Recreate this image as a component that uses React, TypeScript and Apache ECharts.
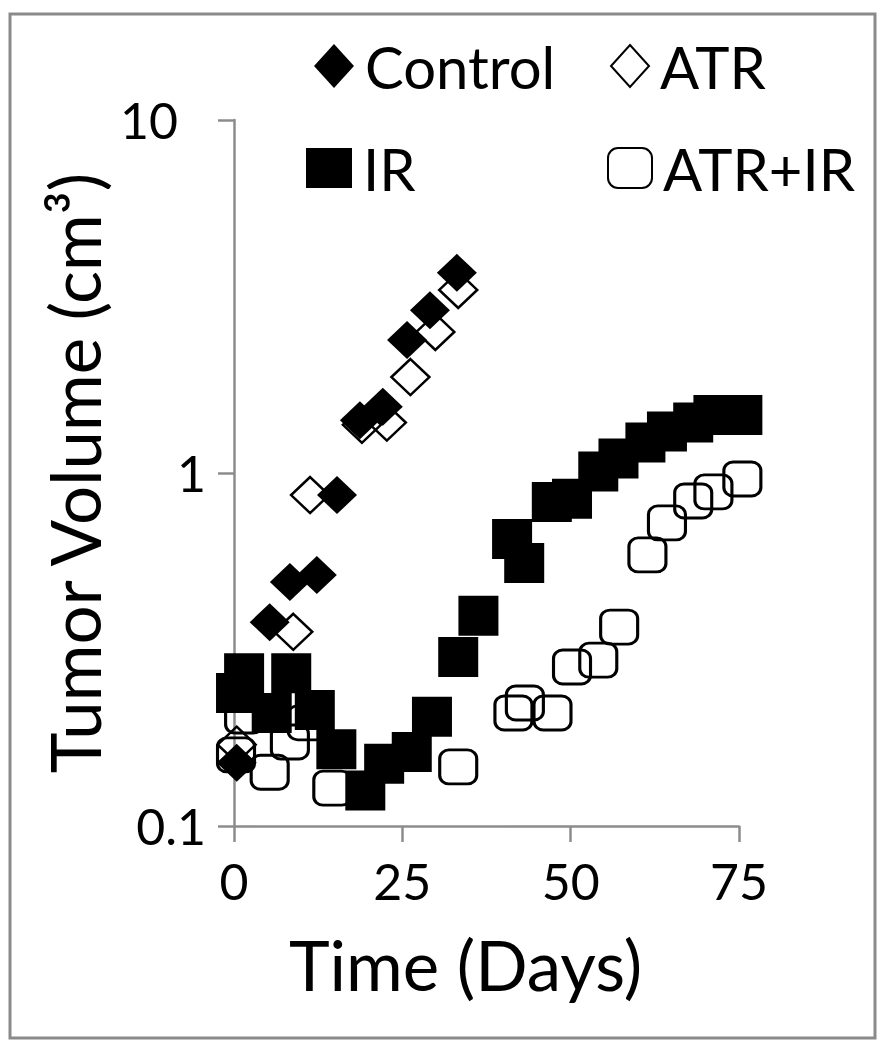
import React, { useEffect, useRef } from "react";
import * as echarts from "echarts";

// Days and tumor volumes (cm³)
const controlDays = [0.4, 5.3, 8.3, 12.3, 15.3, 18.7, 22.1, 25.7, 29.1, 33.1];
const controlVol = [0.151, 0.378, 0.491, 0.514, 0.866, 1.41, 1.54, 2.38, 2.89, 3.69];

const atrDays = [0.4, 8.8, 11.3, 19.0, 22.7, 26.2, 29.9, 33.3];
const atrVol = [0.17, 0.355, 0.866, 1.37, 1.39, 1.87, 2.51, 3.3];

const irDays = [0.3, 1.5, 5.6, 8.5, 12.0, 15.2, 19.5, 22.3, 26.4, 29.4, 33.3, 36.3, 41.3, 43.1, 47.2, 50.2, 54.1, 57.1, 61.1, 64.3, 68.2, 71.2, 75.5];
const irVol = [0.238, 0.271, 0.209, 0.271, 0.213, 0.165, 0.126, 0.15, 0.162, 0.204, 0.301, 0.394, 0.65, 0.556, 0.828, 0.845, 1.01, 1.1, 1.22, 1.31, 1.39, 1.46, 1.46];

const atrIrDays = [0.3, 1.5, 5.3, 8.3, 10.8, 14.6, 33.3, 41.5, 43.2, 47.3, 50.2, 54.1, 57.2, 61.4, 64.3, 68.2, 71.2, 75.5];
const atrIrVol = [0.159, 0.205, 0.142, 0.173, 0.196, 0.128, 0.147, 0.209, 0.223, 0.209, 0.282, 0.295, 0.366, 0.586, 0.722, 0.833, 0.884, 0.962];

const xTicks = [0, 25, 50, 75];
const yTickLabels = ["0.1", "1", "10"];
const seriesNames = ["Control", "ATR", "IR", "ATR+IR"];

const FONT = "Lato";
const AXIS_GRAY = "#8c8c8c";

const zip = (xs: number[], ys: number[]) => xs.map((x, i) => [x, ys[i]]);

export default function App() {
  const ref = useRef<HTMLDivElement>(null);

  useEffect(() => {
    if (!ref.current) return;
    const chart = echarts.init(ref.current, undefined, { renderer: "svg" });

    const legendBase = {
      orient: "horizontal",
      padding: 0,
      itemGap: 0,
      selectedMode: false,
      textStyle: { fontFamily: FONT, fontSize: 58, color: "#000", padding: [0, 0, 0, 6] },
    };

    chart.setOption({
      animation: false,
      backgroundColor: "#fff",
      graphic: [
        {
          type: "rect",
          shape: { x: 10, y: 14, width: 865, height: 1024 },
          style: { fill: "none", stroke: "#8a8a8a", lineWidth: 3 },
          silent: true,
        },
      ],
      legend: [
        { ...legendBase, data: [seriesNames[0]], left: 314, top: 37, itemWidth: 40, itemHeight: 44 },
        { ...legendBase, data: [seriesNames[1]], left: 610, top: 37, itemWidth: 38, itemHeight: 42 },
        { ...legendBase, data: [seriesNames[2]], left: 306, top: 139, itemWidth: 46, itemHeight: 40 },
        { ...legendBase, data: [seriesNames[3]], left: 607, top: 139, itemWidth: 44, itemHeight: 40 },
      ],
      grid: { left: 234, top: 120, width: 505, height: 706 },
      xAxis: {
        type: "value",
        min: 0,
        max: 75,
        interval: 25,
        axisLine: { show: true, onZero: false, lineStyle: { color: AXIS_GRAY, width: 2.5 } },
        axisTick: { show: true, length: 16, lineStyle: { color: AXIS_GRAY, width: 2.5 } },
        splitLine: { show: false },
        axisLabel: {
          fontFamily: FONT,
          fontSize: 50,
          color: "#000",
          margin: 30,
          formatter: (v: number) => (xTicks.includes(v) ? String(v) : ""),
        },
        name: "Time (Days)",
        nameLocation: "middle",
        nameGap: 104,
        nameTextStyle: { fontFamily: FONT, fontSize: 69, color: "#000", padding: [0, 42, 0, 0] },
      },
      yAxis: {
        type: "log",
        logBase: 10,
        min: 0.1,
        max: 10,
        axisLine: { show: true, onZero: false, lineStyle: { color: AXIS_GRAY, width: 2.5 } },
        axisTick: { show: true, length: 16, lineStyle: { color: AXIS_GRAY, width: 2.5 } },
        splitLine: { show: false },
        axisLabel: {
          fontFamily: FONT,
          fontSize: 50,
          color: "#000",
          margin: 28,
          formatter: (v: number) => {
            const e = Math.round(Math.log10(v));
            const s = yTickLabels[e + 1] ?? "";
            return e === 1 ? `{top|${s}}` : s;
          },
          rich: {
            top: { fontFamily: FONT, fontSize: 50, color: "#000", padding: [0, 28, 0, 0] },
          },
        },
        name: "Tumor Volume (cm³)",
        nameLocation: "middle",
        nameGap: 114,
        nameRotate: 90,
        nameTextStyle: { fontFamily: FONT, fontSize: 69, color: "#000" },
      },
      series: [
        {
          name: seriesNames[0],
          type: "scatter",
          clip: false,
          z: 2,
          symbol: "diamond",
          symbolSize: [40, 38],
          itemStyle: { color: "#000", opacity: 1 },
          data: zip(controlDays, controlVol),
        },
        {
          name: seriesNames[1],
          type: "scatter",
          clip: false,
          z: 2,
          symbol: "diamond",
          symbolSize: [38, 36],
          itemStyle: { color: "rgba(255,255,255,0)", borderColor: "#000", borderWidth: 2.5, opacity: 1 },
          data: zip(atrDays, atrVol),
        },
        {
          name: seriesNames[2],
          type: "scatter",
          clip: false,
          z: 4,
          symbol: "rect",
          symbolSize: [40, 40],
          itemStyle: { color: "#000", opacity: 1 },
          data: zip(irDays, irVol),
        },
        {
          name: seriesNames[3],
          type: "scatter",
          clip: false,
          z: 2,
          symbol: "roundRect",
          symbolSize: [37, 34],
          itemStyle: { color: "rgba(255,255,255,0)", borderColor: "#000", borderWidth: 3, opacity: 1 },
          data: zip(atrIrDays, atrIrVol),
        },
      ],
    });

    return () => chart.dispose();
  }, []);

  return (
    <div
      ref={ref}
      style={{ position: "absolute", left: 0, top: 0, width: 884, height: 1050 }}
    />
  );
}
